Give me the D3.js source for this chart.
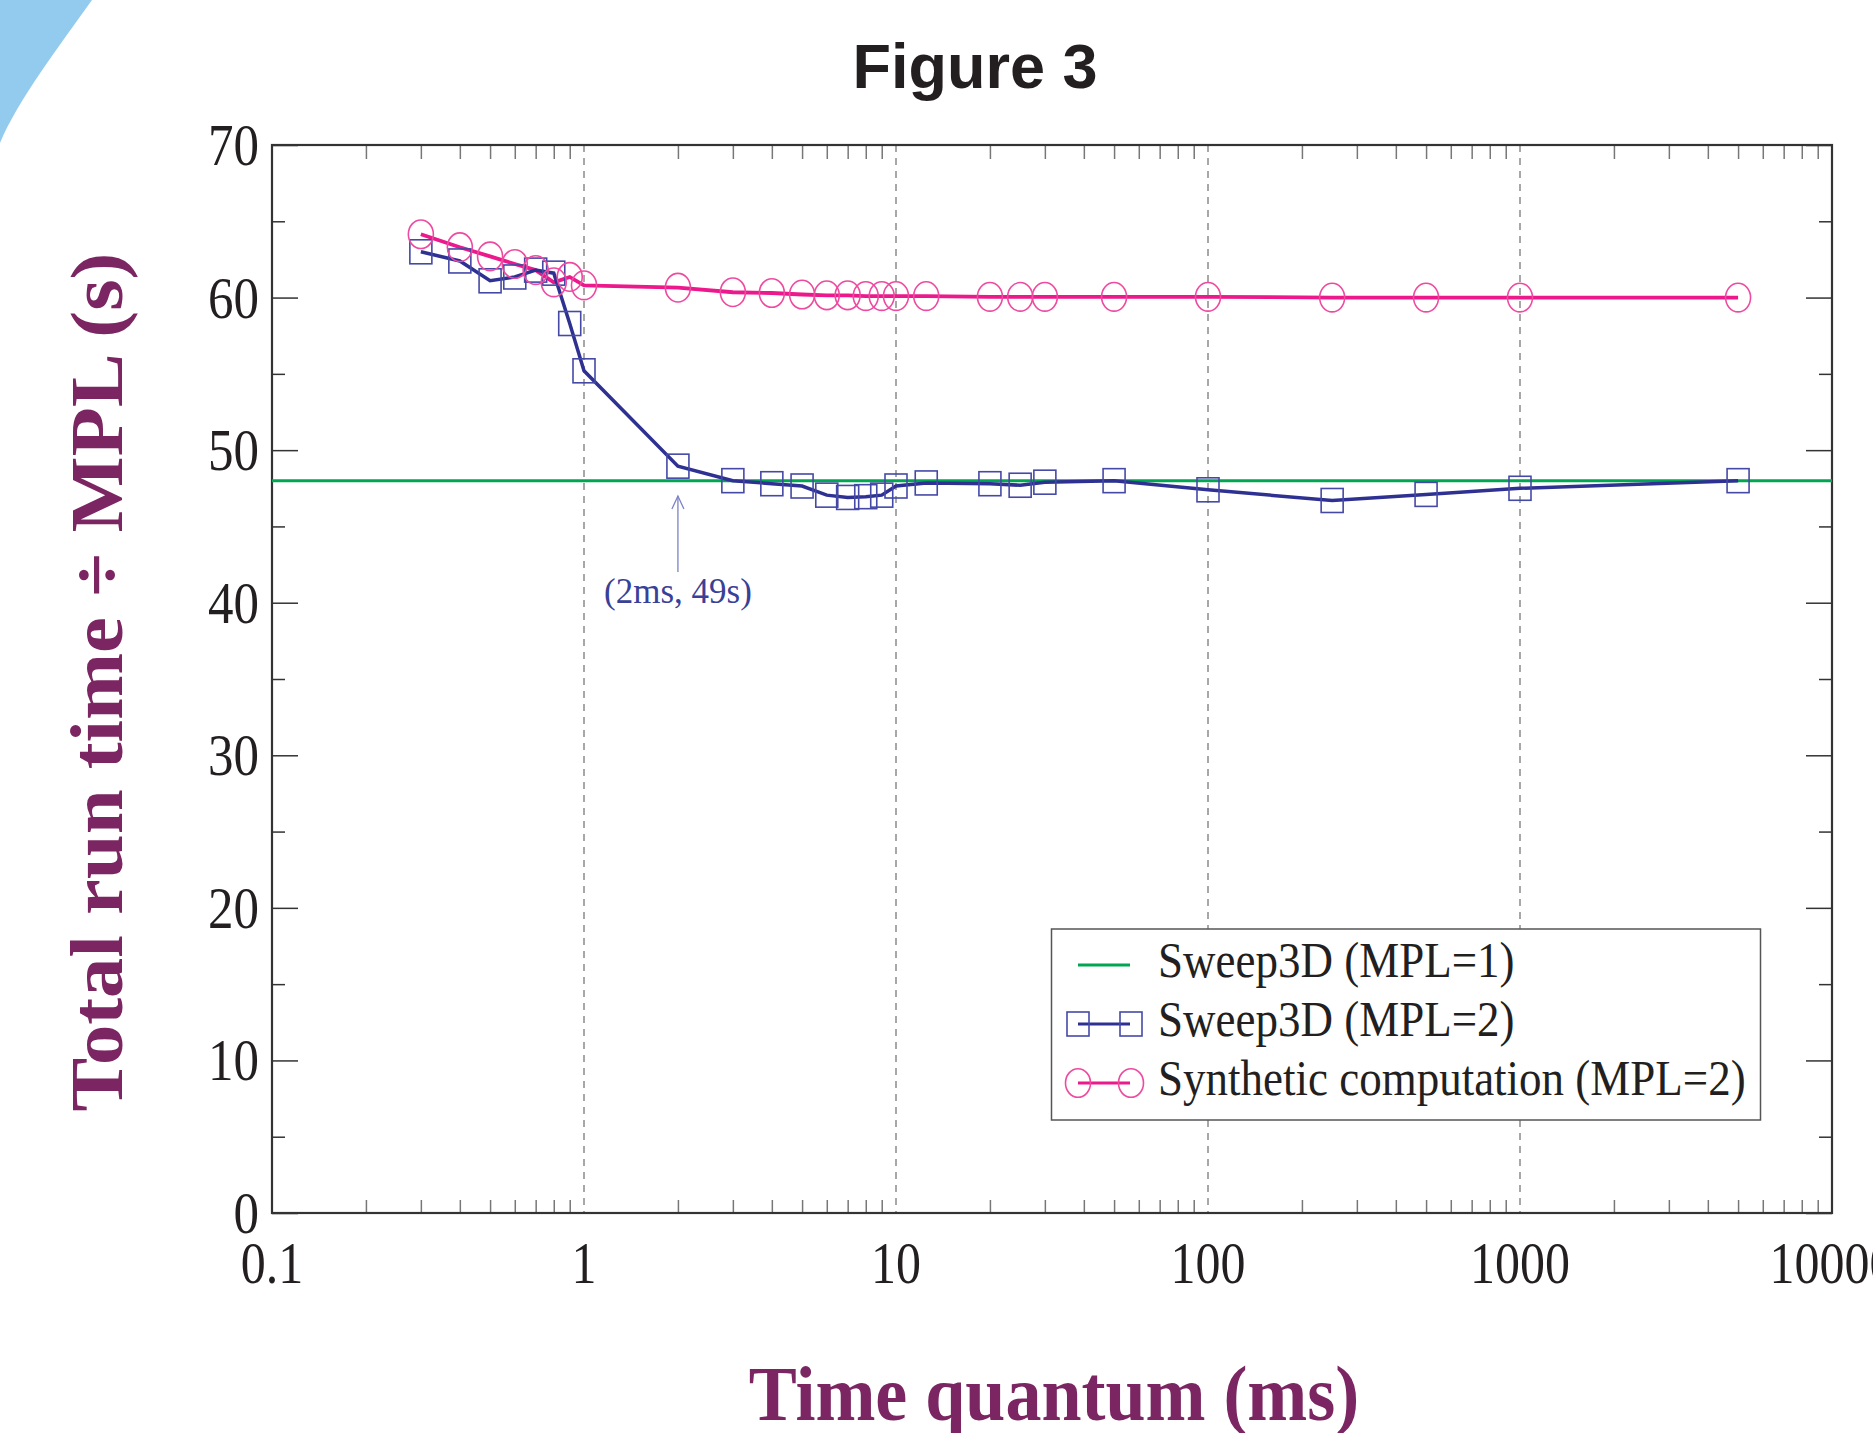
<!DOCTYPE html>
<html>
<head>
<meta charset="utf-8">
<script src="https://cdn.jsdelivr.net/npm/d3@7"></script>
<style>
  body { margin: 0; background: #fff; }
  svg { display: block; }
</style>
</head>
<body>
<div id="chart"></div>
<script>
// Time quantum (ms) for each run
var quanta = [0.3, 0.4, 0.5, 0.6, 0.7, 0.8, 0.9, 1, 2, 3, 4, 5, 6, 7, 8, 9, 10, 12.5, 20, 25, 30, 50, 100, 250, 500, 1000, 5000];
// Sweep3D (MPL=2), total run time / MPL
var sweepMpl2 = [63.0, 62.4, 61.1, 61.35, 61.8, 61.6, 58.3, 55.2, 48.95, 48.0, 47.8, 47.65, 47.05, 46.9, 46.95, 47.05, 47.65, 47.85, 47.8, 47.7, 47.9, 48.0, 47.4, 46.7, 47.1, 47.5, 48.0];
// Synthetic computation (MPL=2)
var synthMpl2 = [64.15, 63.3, 62.7, 62.2, 61.8, 61.0, 61.35, 60.8, 60.65, 60.35, 60.3, 60.2, 60.15, 60.15, 60.1, 60.1, 60.1, 60.1, 60.05, 60.05, 60.05, 60.05, 60.05, 60.0, 60.0, 60.0, 60.0];
// Sweep3D (MPL=1) baseline
var sweepMpl1 = 48;

var xTickValues = [0.1, 1, 10, 100, 1000, 10000];
var xTickLabels = ["0.1", "1", "10", "100", "1000", "10000"];
var yTickValues = [0, 10, 20, 30, 40, 50, 60, 70];
var legendLabels = ["Sweep3D (MPL=1)", "Sweep3D (MPL=2)", "Synthetic computation (MPL=2)"];

var width = 1873, height = 1433;
var plot = { left: 272, right: 1832, top: 145, bottom: 1213 };
var blueLine = "#2e3192", blueMark = "#4549a6";
var pinkLine = "#ec198c", pinkMark = "#ee4aa0";
var green = "#00a651";
var ink = "#231f20", purple = "#7b2562";
var serif = "'Liberation Serif', 'Times New Roman', serif";

var svg = d3.select("#chart").append("svg")
    .attr("width", width)
    .attr("height", height);

// blue corner decoration
svg.append("path")
    .attr("d", "M0,0 L92,0 C60,45 18,100 0,143 Z")
    .attr("fill", "#93cbee");

var x = d3.scaleLog().domain([0.1, 10000]).range([plot.left, plot.right]);
var y = d3.scaleLinear().domain([0, 70]).range([plot.bottom, plot.top]);

// minor x ticks 2..9 per decade
var xMinor = [];
[0.1, 1, 10, 100, 1000].forEach(function(d) {
    for (var k = 2; k <= 9; k++) xMinor.push(d * k);
});
var yMinor = [5, 15, 25, 35, 45, 55, 65];

function styleTicks(g, color, w) {
    g.select(".domain").remove();
    g.selectAll(".tick line").attr("stroke", color).attr("stroke-width", w);
}

svg.append("g").attr("transform", "translate(0," + plot.bottom + ")")
    .call(d3.axisBottom(x).tickValues(xMinor).tickSize(-13).tickFormat(""))
    .call(styleTicks, "#777", 1.5);
svg.append("g").attr("transform", "translate(0," + plot.top + ")")
    .call(d3.axisTop(x).tickValues(xMinor).tickSize(-14).tickFormat(""))
    .call(styleTicks, "#777", 1.5);
svg.append("g").attr("transform", "translate(" + plot.left + ",0)")
    .call(d3.axisLeft(y).tickValues(yTickValues).tickSize(-26).tickFormat(""))
    .call(styleTicks, "#333", 1.5);
svg.append("g").attr("transform", "translate(" + plot.left + ",0)")
    .call(d3.axisLeft(y).tickValues(yMinor).tickSize(-13).tickFormat(""))
    .call(styleTicks, "#333", 1.5);
svg.append("g").attr("transform", "translate(" + plot.right + ",0)")
    .call(d3.axisRight(y).tickValues(yTickValues).tickSize(-26).tickFormat(""))
    .call(styleTicks, "#333", 1.5);
svg.append("g").attr("transform", "translate(" + plot.right + ",0)")
    .call(d3.axisRight(y).tickValues(yMinor).tickSize(-13).tickFormat(""))
    .call(styleTicks, "#333", 1.5);

// dashed decade grid
svg.selectAll(".grid")
    .data([1, 10, 100, 1000])
    .enter().append("line")
    .attr("x1", function(d) { return x(d); })
    .attr("x2", function(d) { return x(d); })
    .attr("y1", plot.top)
    .attr("y2", plot.bottom)
    .attr("stroke", "#8a8a8a")
    .attr("stroke-width", 1.5)
    .attr("stroke-dasharray", "7,6");

// frame
svg.append("rect")
    .attr("x", plot.left).attr("y", plot.top)
    .attr("width", plot.right - plot.left)
    .attr("height", plot.bottom - plot.top)
    .attr("fill", "none")
    .attr("stroke", "#333")
    .attr("stroke-width", 2.2);

// tick labels (serif, stretched vertically like the original)
svg.selectAll(".ylab")
    .data(yTickValues)
    .enter().append("text")
    .attr("transform", function(d) { return "translate(259," + (y(d) + 20) + ") scale(1,1.16)"; })
    .attr("text-anchor", "end")
    .style("font-family", serif)
    .style("font-size", "51px")
    .style("fill", ink)
    .text(function(d) { return d; });

svg.selectAll(".xlab")
    .data(xTickValues)
    .enter().append("text")
    .attr("transform", function(d) { return "translate(" + x(d) + ",1283) scale(1,1.2)"; })
    .attr("text-anchor", "middle")
    .style("font-family", serif)
    .style("font-size", "50px")
    .style("fill", ink)
    .text(function(d, i) { return xTickLabels[i]; });

// axis titles
svg.append("text")
    .attr("transform", "translate(1054,1420) scale(1,1.1)")
    .attr("text-anchor", "middle")
    .style("font-family", serif)
    .style("font-weight", "bold")
    .style("font-size", "72px")
    .style("fill", purple)
    .text("Time quantum (ms)");

svg.append("text")
    .attr("transform", "translate(122,682) rotate(-90) scale(1.09,1)")
    .attr("text-anchor", "middle")
    .style("font-family", serif)
    .style("font-weight", "bold")
    .style("font-size", "74px")
    .style("fill", purple)
    .text("Total run time \u00f7 MPL (s)");

svg.append("text")
    .attr("x", 975).attr("y", 88)
    .attr("text-anchor", "middle")
    .style("font-family", "'Liberation Sans', Arial, sans-serif")
    .style("font-weight", "bold")
    .style("font-size", "63px")
    .style("fill", ink)
    .text("Figure 3");

// baseline
svg.append("line")
    .attr("x1", plot.left).attr("x2", plot.right)
    .attr("y1", y(sweepMpl1)).attr("y2", y(sweepMpl1))
    .attr("stroke", green)
    .attr("stroke-width", 3);

var line = d3.line()
    .x(function(d) { return x(d[0]); })
    .y(function(d) { return y(d[1]); });

var sweepPts = quanta.map(function(q, i) { return [q, sweepMpl2[i]]; });
var synthPts = quanta.map(function(q, i) { return [q, synthMpl2[i]]; });

svg.append("path")
    .attr("d", line(synthPts))
    .attr("fill", "none")
    .attr("stroke", pinkLine)
    .attr("stroke-width", 3.8);

svg.append("path")
    .attr("d", line(sweepPts))
    .attr("fill", "none")
    .attr("stroke", blueLine)
    .attr("stroke-width", 3.5);

svg.selectAll(".sq")
    .data(sweepPts)
    .enter().append("rect")
    .attr("x", function(d) { return x(d[0]) - 11; })
    .attr("y", function(d) { return y(d[1]) - 12; })
    .attr("width", 22)
    .attr("height", 24)
    .attr("fill", "none")
    .attr("stroke", blueMark)
    .attr("stroke-width", 1.6);

svg.selectAll(".circ")
    .data(synthPts)
    .enter().append("ellipse")
    .attr("cx", function(d) { return x(d[0]); })
    .attr("cy", function(d) { return y(d[1]); })
    .attr("rx", 12.5)
    .attr("ry", 14.3)
    .attr("fill", "none")
    .attr("stroke", pinkMark)
    .attr("stroke-width", 1.6);

// annotation at (2ms, 49s)
var ax = x(2);
svg.append("line")
    .attr("x1", ax).attr("x2", ax)
    .attr("y1", 496).attr("y2", 572)
    .attr("stroke", "#7d82c6")
    .attr("stroke-width", 1.3);
svg.append("path")
    .attr("d", "M" + (ax - 6) + ",509 L" + ax + ",496 L" + (ax + 6) + ",509")
    .attr("fill", "none")
    .attr("stroke", "#7d82c6")
    .attr("stroke-width", 1.3);
svg.append("text")
    .attr("transform", "translate(" + ax + ",603) scale(1,1.05)")
    .attr("text-anchor", "middle")
    .style("font-family", serif)
    .style("font-size", "35px")
    .style("fill", "#3a3f98")
    .text("(2ms, 49s)");

// legend
var legend = svg.append("g");
legend.append("rect")
    .attr("x", 1051.5).attr("y", 929)
    .attr("width", 709).attr("height", 191)
    .attr("fill", "#fff")
    .attr("stroke", "#555")
    .attr("stroke-width", 1.5);

var rowY = [965, 1024, 1083];
var rowColor = [green, blueLine, pinkLine];
legendLabels.forEach(function(label, i) {
    var g = legend.append("g");
    g.append("line")
        .attr("x1", 1078).attr("x2", 1130)
        .attr("y1", rowY[i]).attr("y2", rowY[i])
        .attr("stroke", rowColor[i])
        .attr("stroke-width", 3);
    if (i === 1) {
        [1078, 1131].forEach(function(cx) {
            g.append("rect")
                .attr("x", cx - 11).attr("y", rowY[i] - 12)
                .attr("width", 22).attr("height", 24)
                .attr("fill", "none").attr("stroke", blueMark).attr("stroke-width", 1.6);
        });
    }
    if (i === 2) {
        [1078, 1131].forEach(function(cx) {
            g.append("ellipse")
                .attr("cx", cx).attr("cy", rowY[i])
                .attr("rx", 12.5).attr("ry", 14.3)
                .attr("fill", "none").attr("stroke", pinkMark).attr("stroke-width", 1.6);
        });
    }
    g.append("text")
        .attr("transform", "translate(1158," + (rowY[i] + 12) + ") scale(1,1.12)")
        .style("font-family", serif)
        .style("font-size", "45px")
        .style("fill", ink)
        .text(label);
});
</script>
</body>
</html>
